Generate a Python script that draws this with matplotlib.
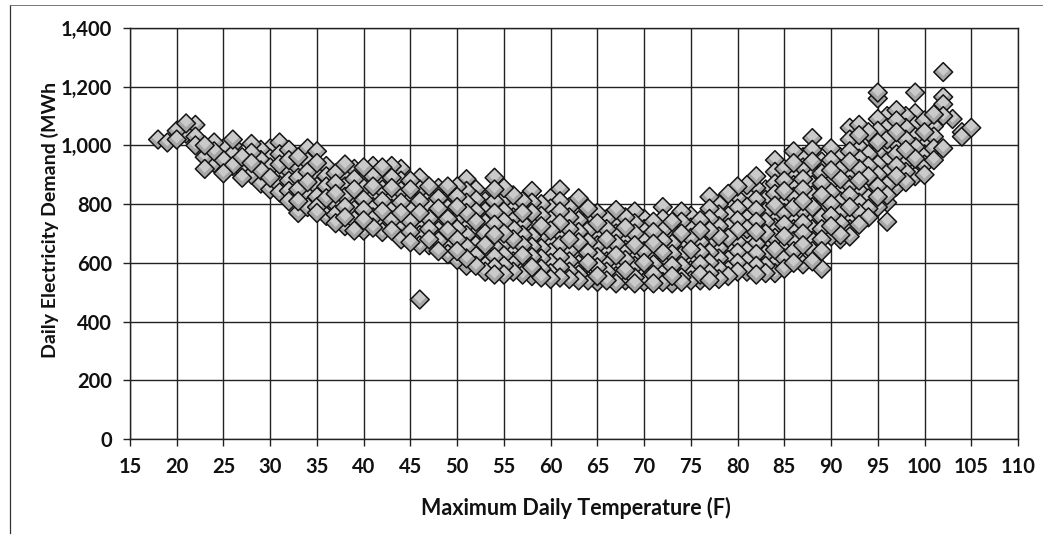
import matplotlib
matplotlib.use('Agg')
import matplotlib.pyplot as plt
from matplotlib.lines import Line2D

plt.rcParams['font.family'] = ['Lato', 'DejaVu Sans']

# demand readings (MWh) for each whole degree of max temperature
temps_10s = [18, 19]
demand_10s = [[1020], [1010]]

temps_20s = [20, 21, 22, 23, 24, 25, 26, 27, 28, 29]
demand_20s = [
    [1050, 1020], [1075, 1040], [1070, 1030, 1000], [1000, 960, 920], [1010, 980, 940],
    [990, 950, 905], [1020, 1000, 970, 930], [960, 920, 890], [1005, 975, 940, 900],
    [985, 950, 915, 870],
]

temps_30s = [30, 31, 32, 33, 34, 35, 36, 37, 38, 39]
demand_30s = [
    [990, 955, 925, 890, 850], [1010, 970, 935, 900, 865, 840], [985, 950, 915, 880, 845, 810],
    [960, 925, 890, 850, 810, 770], [990, 945, 910, 875, 835, 790],
    [980, 940, 900, 860, 825, 790, 770], [930, 895, 860, 820, 785, 760],
    [905, 870, 835, 800, 765, 735], [935, 900, 860, 825, 790, 755, 725],
    [920, 885, 850, 815, 780, 745, 710],
]

temps_40s = [40, 41, 42, 43, 44, 45, 46, 47, 48, 49]
demand_40s = [
    [925, 890, 855, 815, 780, 745, 710], [930, 895, 860, 825, 790, 755, 720],
    [925, 885, 850, 810, 775, 735, 705], [930, 890, 855, 820, 785, 745, 710],
    [920, 880, 845, 805, 770, 730, 680], [880, 850, 815, 780, 740, 705, 670],
    [890, 850, 810, 770, 735, 695, 660, 475], [860, 825, 790, 750, 715, 680, 660],
    [855, 820, 785, 745, 710, 675, 640], [860, 825, 785, 750, 710, 670, 630],
]

temps_50s = [50, 51, 52, 53, 54, 55, 56, 57, 58, 59]
demand_50s = [
    [860, 825, 790, 750, 715, 680, 640, 610], [885, 845, 805, 770, 730, 695, 655, 615, 590],
    [850, 815, 775, 740, 700, 660, 625, 590], [810, 775, 735, 700, 660, 625, 590, 570],
    [890, 850, 810, 770, 730, 695, 655, 620, 585, 560], [855, 815, 775, 740, 700, 665, 625, 590, 560],
    [830, 790, 755, 715, 680, 640, 605, 570], [810, 770, 735, 695, 660, 625, 590, 560],
    [845, 805, 770, 730, 690, 655, 620, 585, 555], [800, 760, 725, 690, 650, 615, 580, 550],
]

temps_60s = [60, 61, 62, 63, 64, 65, 66, 67, 68, 69]
demand_60s = [
    [820, 785, 745, 710, 670, 635, 600, 565, 545], [850, 810, 775, 735, 695, 660, 620, 585, 550],
    [790, 755, 715, 680, 640, 605, 570, 545], [820, 780, 745, 705, 670, 630, 595, 560, 540],
    [785, 745, 710, 670, 635, 600, 565, 540], [770, 735, 695, 660, 620, 585, 555, 535],
    [750, 715, 680, 640, 605, 570, 540], [780, 740, 700, 665, 625, 590, 555, 530],
    [755, 720, 680, 645, 610, 575, 540], [775, 735, 700, 660, 625, 590, 550, 530],
]

temps_70s = [70, 71, 72, 73, 74, 75, 76, 77, 78, 79]
demand_70s = [
    [750, 715, 675, 640, 600, 565, 535], [740, 705, 665, 630, 595, 560, 530],
    [790, 750, 710, 675, 635, 600, 565, 535], [740, 705, 665, 630, 590, 555, 530],
    [775, 740, 700, 660, 625, 590, 550, 535], [760, 720, 685, 645, 610, 575, 540],
    [745, 710, 670, 635, 595, 560, 540], [825, 785, 750, 710, 670, 635, 600, 565, 540],
    [800, 765, 725, 690, 650, 615, 580, 545], [835, 795, 760, 720, 685, 645, 610, 575, 555],
]

temps_80s = [80, 81, 82, 83, 84, 85, 86, 87, 88, 89]
demand_80s = [
    [860, 820, 785, 745, 710, 670, 635, 600, 570], [865, 830, 790, 750, 715, 680, 640, 605, 570],
    [895, 855, 815, 780, 740, 705, 665, 630, 590, 560], [850, 815, 775, 740, 700, 665, 630, 590, 565],
    [950, 910, 870, 835, 795, 760, 720, 685, 645, 610, 565],
    [920, 880, 845, 805, 770, 730, 690, 655, 615, 580],
    [980, 940, 905, 865, 825, 790, 750, 715, 675, 640, 600],
    [960, 925, 885, 850, 810, 775, 735, 700, 660, 620, 595],
    [1025, 985, 945, 905, 865, 830, 790, 750, 715, 675, 640, 605],
    [945, 905, 870, 830, 790, 755, 715, 680, 640, 580],
]

temps_90s = [90, 91, 92, 93, 94, 95, 96, 97, 98, 99]
demand_90s = [
    [990, 950, 915, 875, 840, 800, 760, 725, 690], [960, 920, 885, 845, 810, 770, 735, 695, 680],
    [1060, 1020, 980, 945, 905, 865, 830, 790, 750, 715, 690],
    [1070, 1035, 995, 955, 920, 880, 845, 805, 770, 730],
    [1045, 1010, 970, 930, 895, 855, 820, 785, 755],
    [1180, 1160, 1090, 1050, 1010, 975, 935, 900, 860, 825, 790],
    [1100, 1060, 1020, 985, 945, 905, 865, 830, 805, 740],
    [1120, 1085, 1045, 1005, 970, 930, 895, 860], [1100, 1060, 1020, 985, 945, 910, 875],
    [1180, 1110, 1070, 1030, 995, 955, 920, 895],
]

temps_100s = [100, 101, 102, 103, 104, 105]
demand_100s = [
    [1085, 1045, 1010, 970, 935, 900], [1105, 1065, 1030, 990, 950],
    [1250, 1165, 1140, 1100, 990], [1090], [1045, 1030], [1060],
]

x_ticks = list(range(15, 115, 5))
y_ticks = [0, 200, 400, 600, 800, 1000, 1200, 1400]
y_labels = ['0', '200', '400', '600', '800', '1,000', '1,200', '1,400']

W, H = 1043, 537
fig = plt.figure(figsize=(W / 100, H / 100), dpi=100)
ax = fig.add_axes([130 / W, 1 - 439 / H, (1018 - 130) / W, (439 - 28) / H])

groups = [(temps_10s, demand_10s), (temps_20s, demand_20s), (temps_30s, demand_30s),
          (temps_40s, demand_40s), (temps_50s, demand_50s), (temps_60s, demand_60s),
          (temps_70s, demand_70s), (temps_80s, demand_80s), (temps_90s, demand_90s),
          (temps_100s, demand_100s)]

pts = []
for temps, demand in groups:
    for t, vals in zip(temps, demand):
        for v in vals:
            pts.append((t, v))

# the days are in calendar order in the original, so overlaps are mixed
n = len(pts)
order = sorted(range(n), key=lambda i: (i * 137) % n)

# each diamond: dark outlined base, then a lighter patch on its upper half
xs, ys, sizes, faces, edges, widths = [], [], [], [], [], []
for i in order:
    t, v = pts[i]
    xs += [t, t]
    ys += [v, v + 7]
    sizes += [92, 36]
    faces += ['#a6a6a6', '#cacaca']
    edges += ['#141414', '#cacaca']
    widths += [1.1, 0]

ax.scatter(xs, ys, marker='D', s=sizes, facecolors=faces, edgecolors=edges,
           linewidths=widths, zorder=3, clip_on=False)

ax.set_xlim(15, 110)
ax.set_ylim(0, 1400)
ax.set_xticks(x_ticks)
ax.set_yticks(y_ticks)
ax.set_yticklabels(y_labels)
ax.grid(True, color='#222222', linewidth=1.0, zorder=0)
ax.set_axisbelow(True)
for s in ax.spines.values():
    s.set_color('#222222')
    s.set_linewidth(1.0)
ax.tick_params(length=5, width=1.0, color='#222222', labelsize=14.5, pad=8)
for lab in ax.get_xticklabels() + ax.get_yticklabels():
    lab.set_fontweight('bold')
    lab.set_color('#111111')

fig.text(576 / W, 1 - 508 / H, 'Maximum Daily Temperature (F)', ha='center', va='center',
         fontsize=15.5, fontweight='bold', color='#111111')
fig.text(50 / W, 1 - 220 / H, 'Daily Electricity Demand (MWh', ha='center', va='center',
         rotation=90, fontsize=14, fontweight='bold', color='#111111')

# scanned outer frame, left and top edges only
fig.add_artist(Line2D([10 / W, 10 / W], [1 - 5 / H, 1 - 533 / H], color='#333333', lw=0.9))
fig.add_artist(Line2D([10 / W, 1], [1 - 5 / H, 1 - 5 / H], color='#777777', lw=0.7))

plt.savefig('out.png', dpi=100)
